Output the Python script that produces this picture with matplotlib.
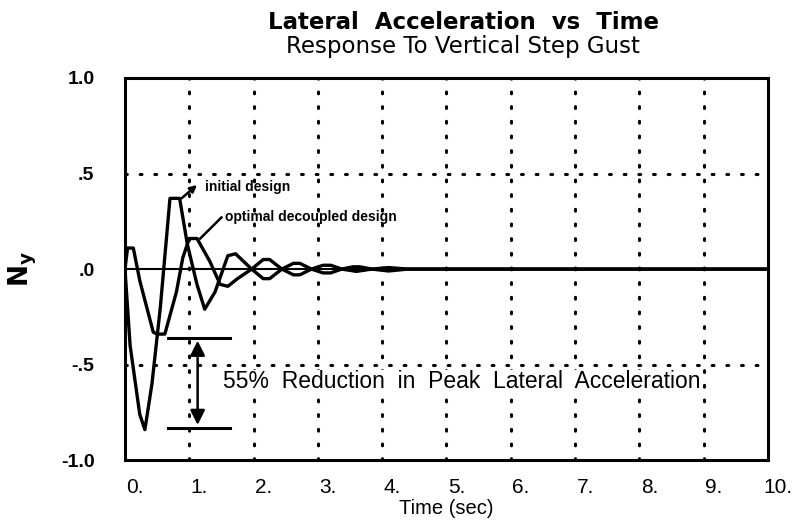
import matplotlib
matplotlib.use("Agg")
from matplotlib import pyplot as plt
from matplotlib import transforms

plt.rcParams['font.family'] = ['Liberation Sans', 'DejaVu Sans']

# initial design response (time in sec, Ny)
t_init = [0.0, 0.08, 0.23, 0.31, 0.42, 0.55, 0.7, 0.85, 0.97, 1.12, 1.24, 1.4, 1.6, 1.72,
          1.97, 2.15, 2.25, 2.44, 2.62, 2.72, 2.9, 3.08, 3.2, 3.37, 3.55, 3.65, 3.84,
          4.1, 4.4, 5.0, 10.0]
y_init = [0.0, -0.40, -0.76, -0.84, -0.60, -0.20, 0.37, 0.37, 0.13, -0.08, -0.21, -0.12, 0.07,
          0.08, 0.0, -0.05, -0.05, 0.0, 0.03, 0.03, 0.0, -0.02, -0.02, 0.0, 0.012, 0.012, 0.0,
          -0.01, 0.0, 0.0, 0.0]

# optimal decoupled design response
t_opt = [0.0, 0.04, 0.13, 0.23, 0.44, 0.5, 0.62, 0.8, 0.9, 1.0, 1.12, 1.32, 1.48, 1.6, 1.75,
         1.97, 2.15, 2.25, 2.44, 2.62, 2.72, 2.9, 3.08, 3.2, 3.37, 3.6, 3.84, 4.1, 4.4, 5.0, 10.0]
y_opt = [0.0, 0.11, 0.11, -0.06, -0.33, -0.34, -0.34, -0.12, 0.06, 0.16, 0.16, 0.04, -0.08,
         -0.09, -0.05, 0.0, 0.05, 0.05, 0.0, -0.03, -0.03, 0.0, 0.02, 0.02, 0.0, -0.012, 0.0,
         0.008, 0.0, 0.0, 0.0]

x_ticks = [0, 1, 2, 3, 4, 5, 6, 7, 8, 9, 10]
x_labels = ["0.", "1.", "2.", "3.", "4.", "5.", "6.", "7.", "8.", "9.", "10."]
y_ticks = [-1.0, -0.5, 0.0, 0.5, 1.0]
y_labels = ["-1.0", "-.5", ".0", ".5", "1.0"]

peak_init = -0.83
peak_opt = -0.36

fig = plt.figure(figsize=(7.99, 5.23), dpi=100)
ax = fig.add_axes([0.1564, 0.120, 0.8048, 0.731])

ax.axhline(0, color="black", lw=1.5, zorder=2)
ax.plot(t_init, y_init, color="black", lw=2.4, zorder=3)
ax.plot(t_opt, y_opt, color="black", lw=2.4, zorder=3)

ax.set_xlim(0, 10)
ax.set_ylim(-1, 1)
ax.set_xticks(x_ticks)
ax.set_xticklabels(x_labels, fontsize=15)
ax.set_yticks(y_ticks)
ax.set_yticklabels(y_labels, fontsize=14, fontweight="bold")
ax.tick_params(length=0, pad=13)
ax.tick_params(axis="y", pad=22)
shift = transforms.ScaledTranslation(10 / 100, 0, fig.dpi_scale_trans)
for lab in ax.get_xticklabels():
    lab.set_transform(lab.get_transform() + shift)

# dotted grid, no gridline at zero (solid line there)
for xv in x_ticks[1:-1]:
    ax.axvline(xv, color="black", lw=2.2, ls=(0, (0.6, 4.2)), dash_capstyle="round", zorder=1)
for yv in [-0.5, 0.5]:
    ax.axhline(yv, color="black", lw=2.2, ls=(0, (0.6, 4.2)), dash_capstyle="round", zorder=1)

for s in ax.spines.values():
    s.set_linewidth(2.2)

ax.set_xlabel("Time (sec)", fontsize=14.5, labelpad=1)
ax.set_ylabel(r"$\mathbf{N_y}$", fontsize=19, labelpad=16, rotation=90)

fig.text(0.580, 0.957, "Lateral  Acceleration  vs  Time", ha="center", va="center",
         fontsize=16.5, fontweight="bold", family="DejaVu Sans")
fig.text(0.580, 0.912, "Response To Vertical Step Gust", ha="center", va="center",
         fontsize=16.5, family="DejaVu Sans")

# peak reduction markers
ax.plot([0.67, 1.63], [peak_opt, peak_opt], color="black", lw=2.2)
ax.plot([0.67, 1.63], [peak_init, peak_init], color="black", lw=2.2)
ax.annotate("", xy=(1.13, peak_opt), xytext=(1.13, peak_init),
            arrowprops=dict(arrowstyle="<|-|>", color="black", lw=1.8, mutation_scale=22))
ax.text(1.52, -0.59, "55%  Reduction  in  Peak  Lateral  Acceleration", fontsize=16.5,
        va="center", ha="left",
        bbox=dict(facecolor="white", edgecolor="none", pad=0.5))

# curve labels with pointers
ax.annotate("", xy=(1.12, 0.44), xytext=(0.88, 0.37),
            arrowprops=dict(arrowstyle="-|>", color="black", lw=1.8, mutation_scale=10,
                            shrinkA=0, shrinkB=0))
ax.text(1.24, 0.43, "initial design", fontsize=10, fontweight="bold", va="center")
ax.plot([1.17, 1.5], [0.16, 0.27], color="black", lw=1.8)
ax.text(1.55, 0.27, "optimal decoupled design", fontsize=10, fontweight="bold", va="center")

fig.savefig("out.png", dpi=100)
